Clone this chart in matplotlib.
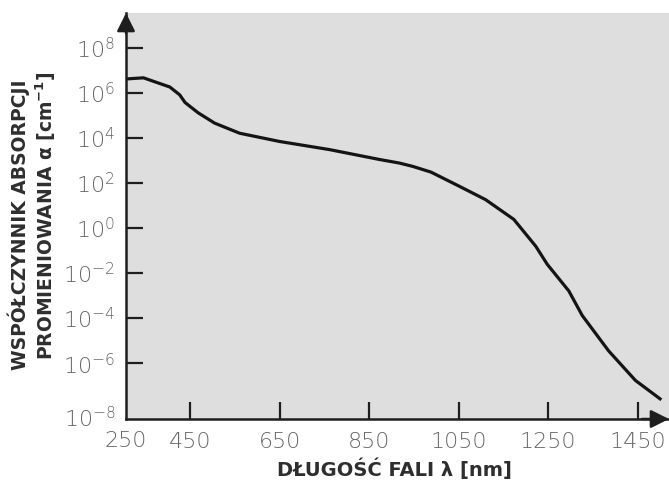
import matplotlib
matplotlib.use("Agg")
import matplotlib.pyplot as plt
import numpy as np

# Absorption coefficient of silicon vs. wavelength
wavelength_nm = [306, 345, 404, 426, 438, 467, 504, 560, 649, 761, 872, 917,
                 947, 988, 1051, 1110, 1173, 1222, 1248, 1296, 1326, 1385,
                 1445, 1500]
alpha_cm = [4.1e6, 4.6e6, 1.8e6, 8.1e5, 3.7e5, 1.3e5, 4.5e4, 1.6e4, 6.9e3,
            3.0e3, 1.1e3, 7.6e2, 5.4e2, 3.0e2, 71, 18, 2.4, 0.155, 0.024,
            1.6e-3, 1.3e-4, 3.5e-6, 1.7e-7, 2.6e-8]

x_ticks = [450, 650, 850, 1050, 1250, 1450]
x_origin_label = "250"
y_exponents = [-6, -4, -2, 0, 2, 4, 6, 8]
y_origin_label = r"$10^{-8}$"

x_label = "DŁUGOŚĆ FALI λ [nm]"
y_label_1 = "WSPÓŁCZYNNIK ABSORPCJI"
y_label_2 = r"PROMIENIOWANIA α [cm$^{\mathbf{-1}}$]"

plt.rcParams["mathtext.fontset"] = "custom"
plt.rcParams["mathtext.rm"] = "DejaVu Sans:light"
plt.rcParams["mathtext.bf"] = "DejaVu Sans:bold"

W, H = 669, 480
fig = plt.figure(figsize=(W / 100, H / 100), dpi=100)
ax = fig.add_axes([126 / W, 1 - 419 / H, 1 - 126 / W, (419 - 13) / H])

bg = "#dedede"
axis_col = "#1e1e1e"
tick_col = "#666666"
label_col = "#2e2e2e"

ax.set_facecolor(bg)
ax.plot(wavelength_nm, alpha_cm, color="#141414", lw=2.3, solid_joinstyle="round")
ax.set_yscale("log")
ax.set_xlim(306, 1520)
ax.set_ylim(10 ** -8.48, 10 ** 9.54)

for s in ("top", "right"):
    ax.spines[s].set_visible(False)
for s in ("left", "bottom"):
    ax.spines[s].set_color(axis_col)
    ax.spines[s].set_linewidth(1.8)

tick_font = dict(family="DejaVu Sans", weight="light", size=16, color=tick_col)

ax.set_xticks(x_ticks)
ax.set_xticklabels([str(v) for v in x_ticks], **tick_font)
ax.set_yticks([10.0 ** e for e in y_exponents])
ax.set_yticklabels([r"$10^{%d}$" % e for e in y_exponents], **tick_font)
ax.yaxis.set_minor_locator(matplotlib.ticker.NullLocator())
ax.tick_params(axis="both", direction="in", length=12, width=1.6, color=axis_col)
ax.tick_params(axis="x", pad=9)
ax.tick_params(axis="y", pad=8)

# labels at the origin corner
ax.text(0, -0.03, x_origin_label, transform=ax.transAxes, ha="center", va="top",
        **tick_font)
ax.text(-0.018, 0.0, y_origin_label, transform=ax.transAxes, ha="right",
        va="center", **tick_font)

# axis arrows
arrow = dict(arrowstyle="-|>,head_length=1.1,head_width=0.55", color=axis_col,
             lw=1.8, shrinkA=0, shrinkB=0)
ax.annotate("", xy=(0, 1.0), xytext=(0, 0.95), xycoords="axes fraction",
            arrowprops=arrow, annotation_clip=False)
ax.annotate("", xy=(1.0, 0), xytext=(0.95, 0), xycoords="axes fraction",
            arrowprops=arrow, annotation_clip=False)

fig.text(394 / W, 1 - 469 / H, x_label, ha="center", va="center",
         family="DejaVu Sans", weight="heavy", size=14, color=label_col)
ylab_font = dict(family="DejaVu Sans", weight="heavy", size=13.5, color=label_col)
fig.text(19 / W, 1 - 225 / H, y_label_1, ha="center", va="center",
         rotation=90, **ylab_font)
fig.text(46 / W, 1 - 216 / H, y_label_2, ha="center", va="center",
         rotation=90, **ylab_font)

fig.savefig("out.png", dpi=100)
